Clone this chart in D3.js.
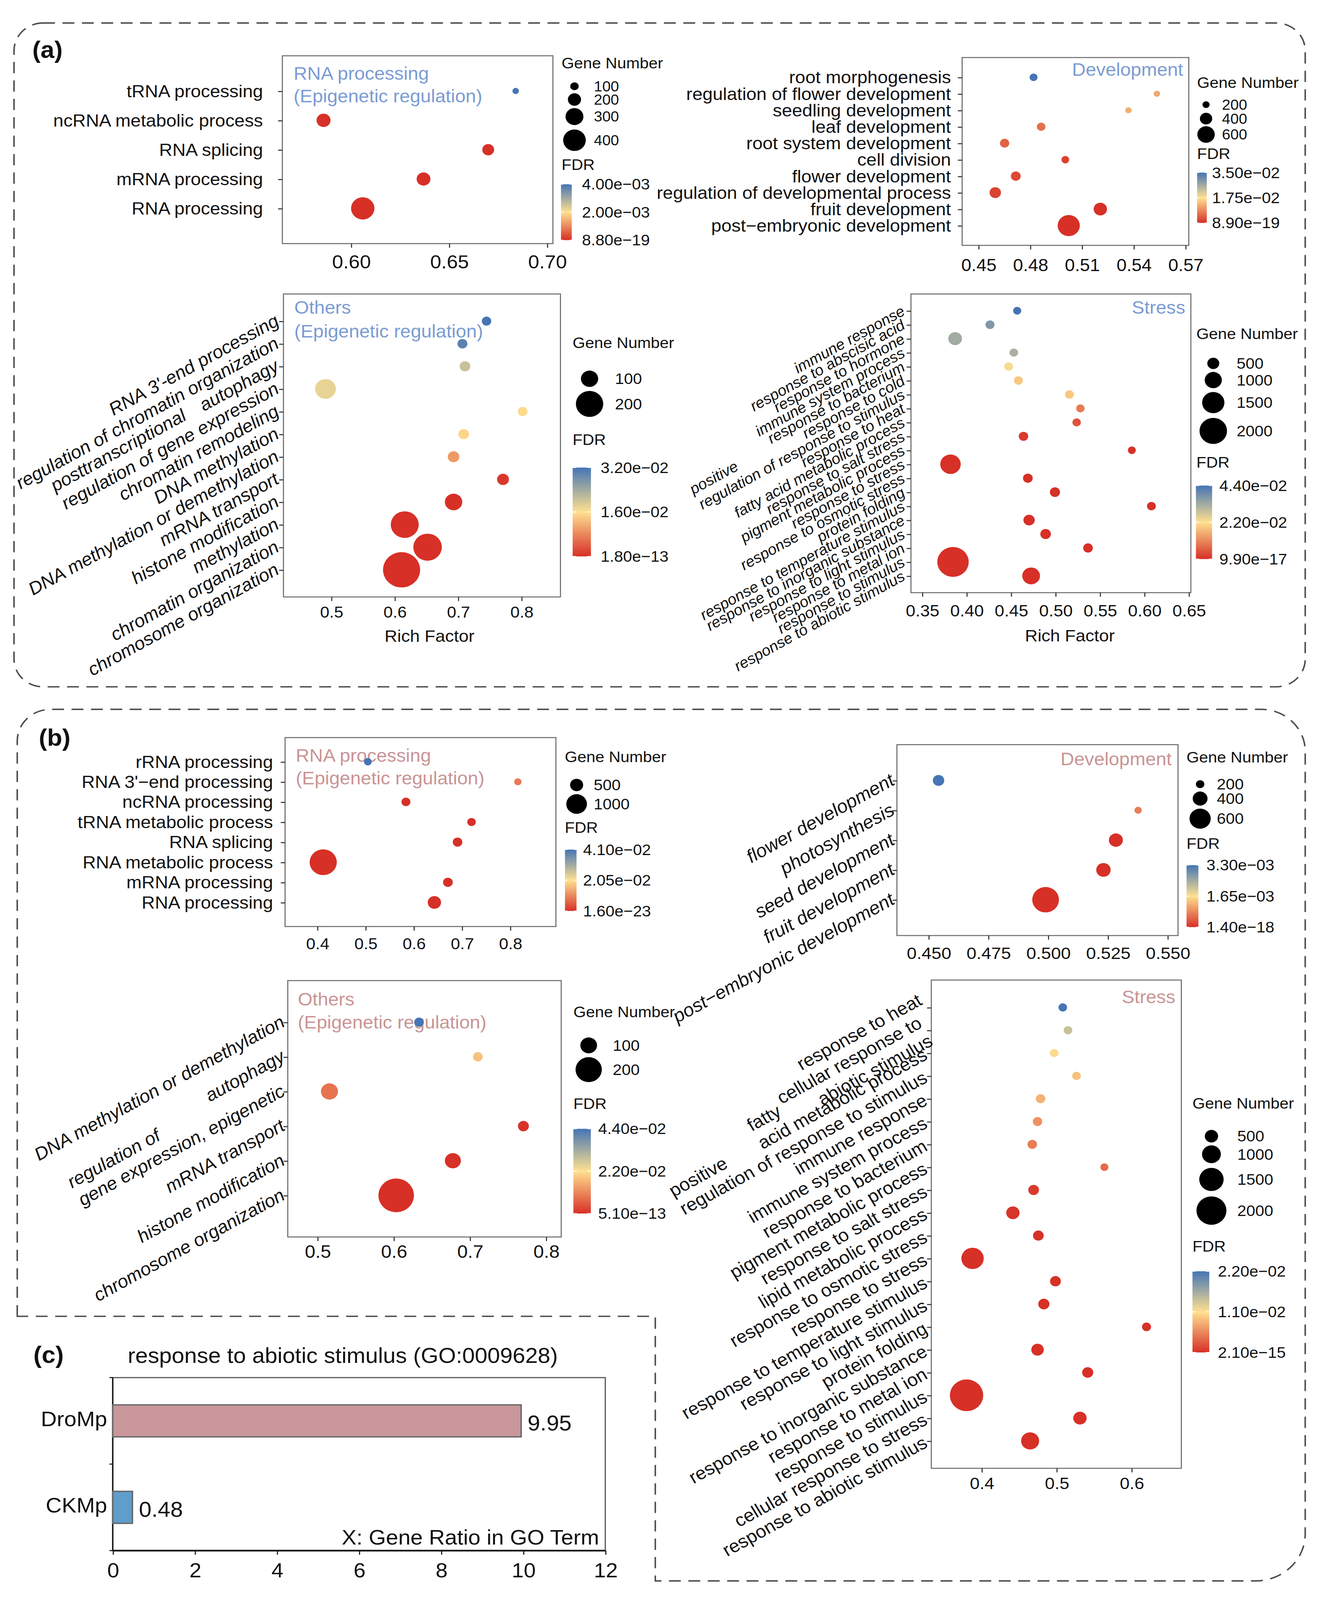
<!DOCTYPE html>
<html>
<head>
<meta charset="utf-8">
<title>GO enrichment bubble plots</title>
<script src="https://cdn.jsdelivr.net/npm/d3@7/dist/d3.min.js"></script>
<style>
  html, body { margin: 0; padding: 0; background: #fff; overflow: hidden; }
  svg { display: block; }
  text { font-family: "Liberation Sans", Arial, Helvetica, sans-serif; fill: #111; }
</style>
</head>
<body>
<svg id="fig"></svg>
<script>
// ---------------- (a) RNA processing ----------------
const aRnaTerms = ["tRNA processing", "ncRNA metabolic process", "RNA splicing", "mRNA processing", "RNA processing"];
const aRnaRich = [0.684, 0.586, 0.670, 0.637, 0.606];
const aRnaGenes = [59, 218, 173, 214, 416];
const aRnaFdr = [4.0e-3, 2.1e-9, 3.5e-6, 1.2e-10, 8.8e-19];
const aRnaXTicks = [0.60, 0.65, 0.70];
const aRnaSizeBreaks = [100, 200, 300, 400];
const aRnaFdrLabels = ["8.80e\u221219", "2.00e\u221203", "4.00e\u221203"];

// ---------------- (a) Development ----------------
const aDevTerms = ["root morphogenesis", "regulation of flower development", "seedling development",
  "leaf development", "root system development", "cell division", "flower development",
  "regulation of developmental process", "fruit development", "post\u2212embryonic development"];
const aDevRich = [0.482, 0.5535, 0.537, 0.4864, 0.4652, 0.5004, 0.4717, 0.4598, 0.5207, 0.5024];
const aDevGenes = [233, 175, 172, 258, 283, 225, 304, 367, 442, 783];
const aDevFdr = [3.5e-2, 1.2e-2, 1.25e-2, 6.4e-3, 4.8e-3, 1.7e-3, 2.5e-3, 1.8e-3, 1.1e-5, 8.9e-19];
const aDevXTicks = [0.45, 0.48, 0.51, 0.54, 0.57];
const aDevSizeBreaks = [200, 400, 600];
const aDevFdrLabels = ["8.90e\u221219", "1.75e\u221202", "3.50e\u221202"];

// ---------------- (a) Others ----------------
const aOthTerms = ["RNA 3'-end processing", "regulation of chromatin organization", "autophagy",
  "posttranscriptional\nregulation of gene expression\n", "chromatin remodeling", "DNA methylation",
  "DNA methylation or demethylation", "mRNA transport", "histone modification", "methylation",
  "chromatin organization", "chromosome organization"];
const aOthRich = [0.745, 0.707, 0.711, 0.491, 0.802, 0.709, 0.693, 0.771, 0.693, 0.616, 0.652, 0.611];
const aOthGenes = [23, 28, 35, 135, 26, 35, 44, 47, 102, 206, 211, 296];
const aOthFdr = [3.2e-2, 3.0e-2, 2.07e-2, 1.8e-2, 1.55e-2, 1.5e-2, 9.6e-3, 8e-4, 2.4e-5, 3.1e-9, 6.2e-11, 1.8e-13];
const aOthXTicks = [0.5, 0.6, 0.7, 0.8];
const aOthSizeBreaks = [100, 200];
const aOthFdrLabels = ["1.80e\u221213", "1.60e\u221202", "3.20e\u221202"];

// ---------------- (a) Stress ----------------
const aStrTerms = ["immune response", "response to abscisic acid", "response to hormone", "immune system process",
  "response to bacterium", "response to cold", "positive\nregulation of response to stimulus\n", "response to heat",
  "fatty acid metabolic process", "response to salt stress", "pigment metabolic process", "response to stress",
  "response to osmotic stress", "protein folding", "response to temperature stimulus",
  "response to inorganic substance", "response to light stimulus", "response to metal ion",
  "response to stimulus", "response to abiotic stimulus"];
const aStrRich = [0.457, 0.4264, 0.3872, 0.4532, 0.4474, 0.4584, 0.5158, 0.5281, 0.5239, 0.4641,
  0.586, 0.382, 0.469, 0.4995, 0.608, 0.4704, 0.489, 0.5367, 0.3848, 0.4727];
const aStrGenes = [135, 219, 667, 177, 198, 208, 198, 156, 156, 260, 115, 1323, 281, 323, 198, 437, 365, 281, 2385, 1063];
const aStrFdr = [4.4e-2, 3.7e-2, 3.3e-2, 3.2e-2, 2.3e-2, 1.87e-2, 1.9e-2, 9.2e-3, 4.4e-3, 1.2e-3,
  2.5e-4, 3.1e-9, 4.2e-6, 2.1e-5, 1.3e-4, 6.3e-7, 8.1e-6, 5.5e-5, 9.9e-17, 1.4e-12];
const aStrXTicks = [0.35, 0.40, 0.45, 0.50, 0.55, 0.60, 0.65];
const aStrSizeBreaks = [500, 1000, 1500, 2000];
const aStrFdrLabels = ["9.90e\u221217", "2.20e\u221202", "4.40e\u221202"];

// ---------------- (b) RNA processing ----------------
const bRnaTerms = ["rRNA processing", "RNA 3'\u2212end processing", "ncRNA processing", "tRNA metabolic process",
  "RNA splicing", "RNA metabolic process", "mRNA processing", "RNA processing"];
const bRnaRich = [0.505, 0.816, 0.584, 0.720, 0.691, 0.4125, 0.671, 0.643];
const bRnaGenes = [155, 127, 232, 204, 275, 1423, 282, 521];
const bRnaFdr = [4.1e-2, 8.5e-3, 2.3e-9, 1.1e-6, 4.5e-11, 1.6e-23, 3.8e-14, 6.1e-18];
const bRnaXTicks = [0.4, 0.5, 0.6, 0.7, 0.8];
const bRnaSizeBreaks = [500, 1000];
const bRnaFdrLabels = ["1.60e\u221223", "2.05e\u221202", "4.10e\u221202"];

// ---------------- (b) Development ----------------
const bDevTerms = ["flower development", "photosynthesis", "seed development", "fruit development",
  "post\u2212embryonic development"];
const bDevRich = [0.4542, 0.5377, 0.5284, 0.5232, 0.499];
const bDevGenes = [294, 167, 375, 388, 772];
const bDevFdr = [3.3e-3, 7.5e-4, 2.1e-6, 4.4e-9, 1.4e-18];
const bDevXTicks = [0.450, 0.475, 0.500, 0.525, 0.550];
const bDevSizeBreaks = [200, 400, 600];
const bDevFdrLabels = ["1.40e\u221218", "1.65e\u221203", "3.30e\u221203"];

// ---------------- (b) Others ----------------
const bOthTerms = ["DNA methylation or demethylation", "autophagy", "regulation of\ngene expression, epigenetic\n",
  "mRNA transport", "histone modification", "chromosome organization"];
const bOthRich = [0.6334, 0.7106, 0.5158, 0.7704, 0.6778, 0.6034];
const bOthGenes = [26, 27, 104, 40, 93, 296];
const bOthFdr = [4.4e-2, 1.83e-2, 8.5e-3, 3.2e-4, 1.5e-6, 5.1e-13];
const bOthXTicks = [0.5, 0.6, 0.7, 0.8];
const bOthSizeBreaks = [100, 200];
const bOthFdrLabels = ["5.10e\u221213", "2.20e\u221202", "4.40e\u221202"];

// ---------------- (b) Stress ----------------
const bStrTerms = ["response to heat\n", "cellular response to\nabiotic stimulus", "fatty\nacid metabolic process\n",
  "positive\nregulation of response to stimulus\n", "immune response", "immune system process",
  "response to bacterium", "pigment metabolic process", "response to salt stress", "lipid metabolic process",
  "response to osmotic stress", "response to stress", "response to temperature stimulus",
  "response to light stimulus", "protein folding", "response to inorganic substance", "response to metal ion",
  "response to stimulus", "cellular response to stress", "response to abiotic stimulus"];
const bStrRich = [0.5084, 0.5153, 0.4969, 0.5267, 0.4787, 0.4747, 0.4677, 0.5639, 0.4695, 0.4418,
  0.4758, 0.388, 0.4986, 0.4831, 0.6201, 0.4747, 0.5416, 0.38, 0.5313, 0.4648];
const bStrGenes = [83, 85, 80, 86, 160, 158, 162, 30, 277, 509, 270, 1321, 281, 315, 122, 431, 309, 2308, 512, 934];
const bStrFdr = [2.2e-2, 1.42e-2, 1.07e-2, 9.1e-3, 8.1e-3, 6.2e-3, 4.9e-3, 3.6e-3, 7e-4, 2.2e-4,
  5.1e-5, 3.4e-10, 1.2e-5, 8.3e-6, 4.4e-5, 2.6e-7, 1.9e-5, 2.1e-15, 6.3e-8, 1.1e-11];
const bStrXTicks = [0.4, 0.5, 0.6];
const bStrSizeBreaks = [500, 1000, 1500, 2000];
const bStrFdrLabels = ["2.10e\u221215", "1.10e\u221202", "2.20e\u221202"];

// ---------------- (c) gene ratio ----------------
const cGroups = ["DroMp", "CKMp"];
const cRatio = [9.95, 0.48];
const cXTicks = [0, 2, 4, 6, 8, 10, 12];

// ---------------- styles ----------------
const FDR_COLORS = ["#D73027", "#FEE090", "#4575B4"];
const BLUE = "#7B9BD3", PINK = "#C99494";
const cFills = ["#C9979B", "#5F9DCB"];

// the figure is laid out in a 1234-wide coordinate system and stretched to the window
const VW = 1234, VH = 1234 * 4312 / 3404;
const pageW = document.documentElement.clientWidth || window.innerWidth || 3404;
const pageH = document.documentElement.clientHeight || window.innerHeight || 4312;
const svg = d3.select("#fig").attr("width", pageW).attr("height", pageH)
  .attr("viewBox", `0 0 ${VW} ${VH}`).attr("preserveAspectRatio", "none");
svg.append("rect").attr("width", VW).attr("height", VH).attr("fill", "#fff");
const defs = svg.append("defs");

// panel layouts (positions in viewBox units)
const panels = [
  { terms: aRnaTerms, rich: aRnaRich, genes: aRnaGenes, fdr: aRnaFdr, xTicks: aRnaXTicks,
    sizeBreaks: aRnaSizeBreaks, fdrLabels: aRnaFdrLabels,
    box: [262, 513, 54.5, 238], xDomain: [0.565, 0.703], fmt: ".2f", tickFont: 18.5, tickY: 255.6,
    mode: "h", labelFont: 17, labelGap: 14, sizeDomain: [100, 400], sizeRange: [3.9, 10.5],
    title: ["RNA processing", "(Epigenetic regulation)"], titleX: 272.4, titleY: [78, 100], anchor: "start", color: BLUE,
    leg: { x: 521, titleY: 66.8, cx: 533, lx: 551, ys: [84.3, 97.2, 113.9, 137], font: 14, fdrY: 166,
      barX: 520.5, barW: 10, barY: [180, 234.6], fx: 540 } },
  { terms: aDevTerms, rich: aDevRich, genes: aDevGenes, fdr: aDevFdr, xTicks: aDevXTicks,
    sizeBreaks: aDevSizeBreaks, fdrLabels: aDevFdrLabels,
    box: [892.7, 1103, 56.2, 239.7], xDomain: [0.4406, 0.572], fmt: ".2f", tickFont: 16.8, tickY: 259,
    mode: "h", labelFont: 17, labelGap: 6.4, sizeDomain: [200, 600], sizeRange: [3.3, 8.1],
    title: ["Development"], titleX: 1097.8, titleY: [74], anchor: "end", color: BLUE,
    leg: { x: 1110.7, titleY: 86, cx: 1119, lx: 1133.8, ys: [102.2, 115.9, 131.4], font: 14, fdrY: 155.4,
      barX: 1110.7, barW: 9, barY: [168.6, 217.8], fx: 1124.5 } },
  { terms: aOthTerms, rich: aOthRich, genes: aOthGenes, fdr: aOthFdr, xTicks: aOthXTicks,
    sizeBreaks: aOthSizeBreaks, fdrLabels: aOthFdrLabels,
    box: [263, 520, 287.2, 583.2], xDomain: [0.4247, 0.8616], fmt: ".1f", tickFont: 15.5, tickY: 598,
    mode: "rot", italic: true, labelFont: 17.5, labelGap: 2, labelShift: -2, sizeDomain: [100, 200], sizeRange: [8, 12.7],
    title: ["Others", "(Epigenetic regulation)"], titleX: 273.1, titleY: [306.6, 329.9], anchor: "start", color: BLUE,
    richT: [398.5, 627],
    leg: { x: 531.3, titleY: 340.2, cx: 547, lx: 570.6, ys: [370, 394.6], font: 15, fdrY: 434.8,
      barX: 531.3, barW: 17, barY: [456.8, 543.6], fx: 557.3 } },
  { terms: aStrTerms, rich: aStrRich, genes: aStrGenes, fdr: aStrFdr, xTicks: aStrXTicks,
    sizeBreaks: aStrSizeBreaks, fdrLabels: aStrFdrLabels,
    box: [845.2, 1104.9, 287.2, 579], xDomain: [0.3375, 0.6524], fmt: ".2f", tickFont: 16, tickY: 596.7,
    mode: "rot", italic: true, labelFont: 14.6, labelGap: 3, labelShift: -1, sizeDomain: [500, 2000], sizeRange: [5.55, 12.75],
    title: ["Stress"], titleX: 1099.7, titleY: [306.6], anchor: "end", color: BLUE,
    richT: [992.6, 626.5],
    leg: { x: 1110, titleY: 331.2, cx: 1125.7, lx: 1147.4, ys: [355, 371.3, 393.3, 421], font: 15, fdrY: 456.8,
      barX: 1109.6, barW: 15, barY: [474.4, 546.2], fx: 1131.3 } },
  { terms: bRnaTerms, rich: bRnaRich, genes: bRnaGenes, fdr: bRnaFdr, xTicks: bRnaXTicks,
    sizeBreaks: bRnaSizeBreaks, fdrLabels: bRnaFdrLabels,
    box: [264.5, 515.8, 720.6, 905.2], xDomain: [0.3334, 0.895], fmt: ".1f", tickFont: 15.5, tickY: 922,
    mode: "h", labelFont: 17, labelGap: 7.2, sizeDomain: [500, 1000], sizeRange: [6.05, 9.6],
    title: ["RNA processing", "(Epigenetic regulation)"], titleX: 274.4, titleY: [744, 766.5], anchor: "start", color: PINK,
    leg: { x: 524, titleY: 744.7, cx: 535, lx: 550.8, ys: [766.9, 785.5], font: 15, fdrY: 813.5,
      barX: 524.2, barW: 10.7, barY: [830, 890], fx: 541 } },
  { terms: bDevTerms, rich: bDevRich, genes: bDevGenes, fdr: bDevFdr, xTicks: bDevXTicks,
    sizeBreaks: bDevSizeBreaks, fdrLabels: bDevFdrLabels,
    box: [832.2, 1093, 727.5, 914], xDomain: [0.4368, 0.5544], fmt: ".3f", tickFont: 16.5, tickY: 931.3,
    mode: "rot", italic: true, labelFont: 17.9, labelGap: 0, labelShift: -2, sizeDomain: [200, 600], sizeRange: [3.9, 9.85],
    title: ["Development"], titleX: 1087.1, titleY: [747.7], anchor: "end", color: PINK,
    leg: { x: 1100.9, titleY: 745, cx: 1113.5, lx: 1129, ys: [766.1, 780.2, 799.8], font: 15, fdrY: 829.4,
      barX: 1100.9, barW: 11, barY: [845.2, 905.8], fx: 1119.4 } },
  { terms: bOthTerms, rich: bOthRich, genes: bOthGenes, fdr: bOthFdr, xTicks: bOthXTicks,
    sizeBreaks: bOthSizeBreaks, fdrLabels: bOthFdrLabels,
    box: [267, 520.7, 958, 1208.5], xDomain: [0.4611, 0.82], fmt: ".1f", tickFont: 17.5, tickY: 1222.7,
    mode: "rot", italic: true, labelFont: 17.5, labelGap: 0.5, labelShift: -2, sizeDomain: [100, 200], sizeRange: [7.75, 12.2],
    title: ["Others", "(Epigenetic regulation)"], titleX: 276.3, titleY: [982.5, 1004.7], anchor: "start", color: PINK,
    leg: { x: 532, titleY: 993.6, cx: 546.2, lx: 568.5, ys: [1021.3, 1045], font: 15, fdrY: 1083.5,
      barX: 532, barW: 16.2, barY: [1102.8, 1185.6], fx: 555 } },
  { terms: bStrTerms, rich: bStrRich, genes: bStrGenes, fdr: bStrFdr, xTicks: bStrXTicks,
    sizeBreaks: bStrSizeBreaks, fdrLabels: bStrFdrLabels,
    box: [864.1, 1096.1, 957.5, 1434.5], xDomain: [0.333, 0.6666], fmt: ".1f", tickFont: 16.3, tickY: 1449.1,
    mode: "rot", italic: false, labelFont: 17.5, labelGap: 1.5, labelShift: 0,
    sizeDomain: [500, 2000], sizeRange: [6.15, 13.9],
    title: ["Stress"], titleX: 1090.5, titleY: [980.1], anchor: "end", color: PINK,
    leg: { x: 1106.4, titleY: 1083, cx: 1124, lx: 1148, ys: [1110, 1127.7, 1152.3, 1182.7], font: 15, fdrY: 1222.7,
      barX: 1106.4, barW: 15.6, barY: [1242, 1321.3], fx: 1130 } }
];

function drawBubble(p, i) {
  const g = svg.append("g").attr("class", "panel" + i);
  const [x0, x1, y0, y1] = p.box;
  const x = d3.scaleLinear().domain(p.xDomain).range([x0, x1]);
  const y = d3.scalePoint().domain(p.terms).range([y0, y1]).padding(1.2);
  const r = d3.scaleLinear().domain(p.sizeDomain).range(p.sizeRange);
  const [fMin, fMax] = d3.extent(p.fdr);
  const fMid = (fMin + fMax) / 2;
  const col = d3.scaleLinear().domain([fMin, fMid, fMax]).range(FDR_COLORS);

  g.append("rect").attr("x", x0).attr("y", y0).attr("width", x1 - x0).attr("height", y1 - y0)
    .attr("fill", "#fff").attr("stroke", "#6e6e6e").attr("stroke-width", 1);

  // x axis
  const xa = g.append("g").attr("transform", `translate(0,${y1})`)
    .call(d3.axisBottom(x).tickValues(p.xTicks).tickFormat(d3.format(p.fmt)).tickSize(4));
  xa.select(".domain").remove();
  xa.selectAll("line").attr("stroke", "#333");
  xa.selectAll("text").attr("y", p.tickY - y1).attr("dy", "0.35em").attr("font-size", p.tickFont);

  // y axis ticks
  const ya = g.append("g").attr("transform", `translate(${x0},0)`)
    .call(d3.axisLeft(y).tickSize(4).tickFormat(""));
  ya.select(".domain").remove();
  ya.selectAll("line").attr("stroke", "#333");

  // category labels
  const lab = g.append("g").attr("font-size", p.labelFont).attr("font-style", p.italic ? "italic" : null);
  p.terms.forEach(t => {
    if (p.mode === "h") {
      lab.append("text").attr("x", x0 - 4 - p.labelGap).attr("y", y(t)).attr("dy", "0.35em")
        .attr("text-anchor", "end").text(t);
      return;
    }
    // rotated, possibly multi-line block centred on the tick
    const lines = t.split("\n");
    const n = lines.length;
    const lh = p.labelFont * 1.15;
    let li = n - 1;
    while (li > 0 && !lines[li]) li--;
    const tg = lab.append("g")
      .attr("transform", `translate(${x0 - 4 - p.labelGap},${y(t) + p.labelShift}) rotate(-30)`);
    const main = tg.append("text").attr("x", 0).attr("y", (li - (n - 1) / 2) * lh).attr("dy", "0.35em")
      .attr("text-anchor", "end").text(lines[li]);
    const wMain = main.node().getComputedTextLength();
    lines.forEach((s, k) => {
      if (k === li || !s) return;
      const tx = tg.append("text").attr("y", (k - (n - 1) / 2) * lh).attr("dy", "0.35em").text(s);
      const w = tx.node().getComputedTextLength();
      if (w < wMain) tx.attr("x", -wMain).attr("text-anchor", "start");
      else tx.attr("x", 0).attr("text-anchor", "end");
    });
  });

  // panel title
  g.append("g").attr("font-size", 17.5).selectAll("text").data(p.title).join("text")
    .attr("x", p.titleX).attr("y", (d, k) => p.titleY[k]).attr("text-anchor", p.anchor)
    .style("fill", p.color).text(d => d);

  // points
  const pts = p.terms.map((t, k) => ({ t, rich: p.rich[k], n: p.genes[k], f: p.fdr[k] }));
  g.append("g").selectAll("circle").data(pts).join("circle")
    .attr("cx", d => x(d.rich)).attr("cy", d => y(d.t)).attr("r", d => r(d.n))
    .attr("fill", d => col(d.f));

  if (p.richT) {
    g.append("text").attr("x", p.richT[0]).attr("y", p.richT[1]).attr("text-anchor", "middle")
      .attr("font-size", 16.3).text("Rich Factor");
  }

  // size legend
  const L = p.leg;
  g.append("text").attr("x", L.x).attr("y", L.titleY).attr("font-size", 15).text("Gene Number");
  const sl = g.append("g").selectAll("g").data(p.sizeBreaks).join("g");
  sl.append("circle").attr("cx", L.cx).attr("cy", (d, k) => L.ys[k]).attr("r", d => r(d)).attr("fill", "#000");
  sl.append("text").attr("x", L.lx).attr("y", (d, k) => L.ys[k]).attr("dy", "0.35em")
    .attr("font-size", L.font).text(d => d);

  // colour bar
  g.append("text").attr("x", L.x).attr("y", L.fdrY).attr("font-size", 15).text("FDR");
  const gid = "fdrgrad" + i;
  defs.append("linearGradient").attr("id", gid).attr("x1", 0).attr("y1", 1).attr("x2", 0).attr("y2", 0)
    .selectAll("stop").data(FDR_COLORS).join("stop")
    .attr("offset", (d, k) => k / (FDR_COLORS.length - 1)).attr("stop-color", d => d);
  const [b0, b1] = L.barY;
  const fy = d3.scaleLinear().domain([fMin, fMax]).range([b1, b0]);
  g.append("rect").attr("x", L.barX).attr("y", b0).attr("width", L.barW).attr("height", b1 - b0)
    .attr("fill", `url(#${gid})`);
  const br = [fMin, fMid, fMax];
  const bt = g.append("g").attr("stroke", "#fff").attr("stroke-width", 0.8);
  br.forEach(v => {
    bt.append("line").attr("x1", L.barX).attr("x2", L.barX + L.barW * 0.2).attr("y1", fy(v)).attr("y2", fy(v));
    bt.append("line").attr("x1", L.barX + L.barW * 0.8).attr("x2", L.barX + L.barW).attr("y1", fy(v)).attr("y2", fy(v));
  });
  g.append("g").selectAll("text").data(br).join("text")
    .attr("x", L.fx).attr("y", d => fy(d)).attr("dy", "0.35em").attr("font-size", 15)
    .text((d, k) => p.fdrLabels[k]);
}

panels.forEach(drawBubble);

// ---------------- (c) bar chart ----------------
(function drawC() {
  const g = svg.append("g").attr("class", "panelC");
  const x0 = 104.6, x1 = 561.6, y0 = 1345.9, y1 = 1514.9;
  const x = d3.scaleLinear().domain([0, 12]).range([x0, x1]);
  const y = d3.scaleBand().domain(cGroups).range([y0, y1]).paddingInner(0.63).paddingOuter(0.315);

  g.append("rect").attr("x", x0).attr("y", y0).attr("width", x1 - x0).attr("height", y1 - y0)
    .attr("fill", "#fff").attr("stroke", "#555").attr("stroke-width", 1.1);
  g.append("line").attr("x1", x0).attr("x2", x0).attr("y1", y0).attr("y2", y1).attr("stroke", "#111").attr("stroke-width", 1.3);
  g.append("line").attr("x1", x0).attr("x2", x1).attr("y1", y1).attr("y2", y1).attr("stroke", "#111").attr("stroke-width", 1.6);
  [y0, (y0 + y1) / 2, y1].forEach(v => g.append("line").attr("x1", x0 - 3).attr("x2", x0)
    .attr("y1", v).attr("y2", v).attr("stroke", "#111").attr("stroke-width", 1));

  const xa = g.append("g").attr("transform", `translate(0,${y1})`)
    .call(d3.axisBottom(x).tickValues(cXTicks).tickFormat(d3.format("d")).tickSize(4));
  xa.select(".domain").remove();
  xa.selectAll("line").attr("stroke", "#111");
  xa.selectAll("text").attr("y", 1534 - y1).attr("dy", "0.35em").attr("font-size", 20);

  const bars = cGroups.map((gname, k) => ({ g: gname, v: cRatio[k], fill: cFills[k] }));
  g.append("g").selectAll("rect").data(bars).join("rect")
    .attr("x", x(0)).attr("y", d => y(d.g)).attr("width", d => x(d.v) - x(0)).attr("height", y.bandwidth())
    .attr("fill", d => d.fill).attr("stroke", "#666").attr("stroke-width", 1.3);
  g.append("g").selectAll("text").data(bars).join("text")
    .attr("x", d => x(d.v) + 6).attr("y", d => y(d.g) + y.bandwidth() / 2 + 2).attr("dy", "0.35em")
    .attr("font-size", 21).text(d => d.v.toFixed(2));
  g.append("g").selectAll("text").data(cGroups).join("text")
    .attr("x", 99.4).attr("y", d => y(d) + y.bandwidth() / 2 - 2).attr("dy", "0.35em")
    .attr("text-anchor", "end").attr("font-size", 20.5).text(d => d);

  g.append("text").attr("x", 555.9).attr("y", 1501.9).attr("dy", "0.35em").attr("text-anchor", "end")
    .attr("font-size", 20.5).text("X: Gene Ratio in GO Term");
  g.append("text").attr("x", 118.5).attr("y", 1331.5).attr("font-size", 21)
    .text("response to abiotic stimulus (GO:0009628)");
})();

// ---------------- panel letters and dashed frames ----------------
const letters = [["(a)", 30, 56.5], ["(b)", 36, 728.5], ["(c)", 31, 1331.5]];
svg.append("g").selectAll("text").data(letters).join("text")
  .attr("x", d => d[1]).attr("y", d => d[2]).attr("font-size", 23).attr("font-weight", "bold").text(d => d[0]);

const frame = svg.append("g").attr("fill", "none").attr("stroke", "#4d4d4d")
  .attr("stroke-width", 1.4).attr("stroke-dasharray", "11 7");
frame.append("rect").attr("x", 13).attr("y", 22.5).attr("width", 1198).attr("height", 648.5).attr("rx", 27);
const bp = d3.path();
bp.moveTo(16, 1286);
bp.lineTo(16, 724);
bp.arcTo(16, 693, 47, 693, 31);
bp.lineTo(1170, 693);
bp.arcTo(1211, 693, 1211, 734, 41);
bp.lineTo(1211, 1498);
bp.arcTo(1211, 1544.5, 1165, 1544.5, 46);
bp.lineTo(608, 1544.5);
bp.lineTo(608, 1286);
bp.closePath();
frame.append("path").attr("d", bp.toString());
</script>
</body>
</html>
